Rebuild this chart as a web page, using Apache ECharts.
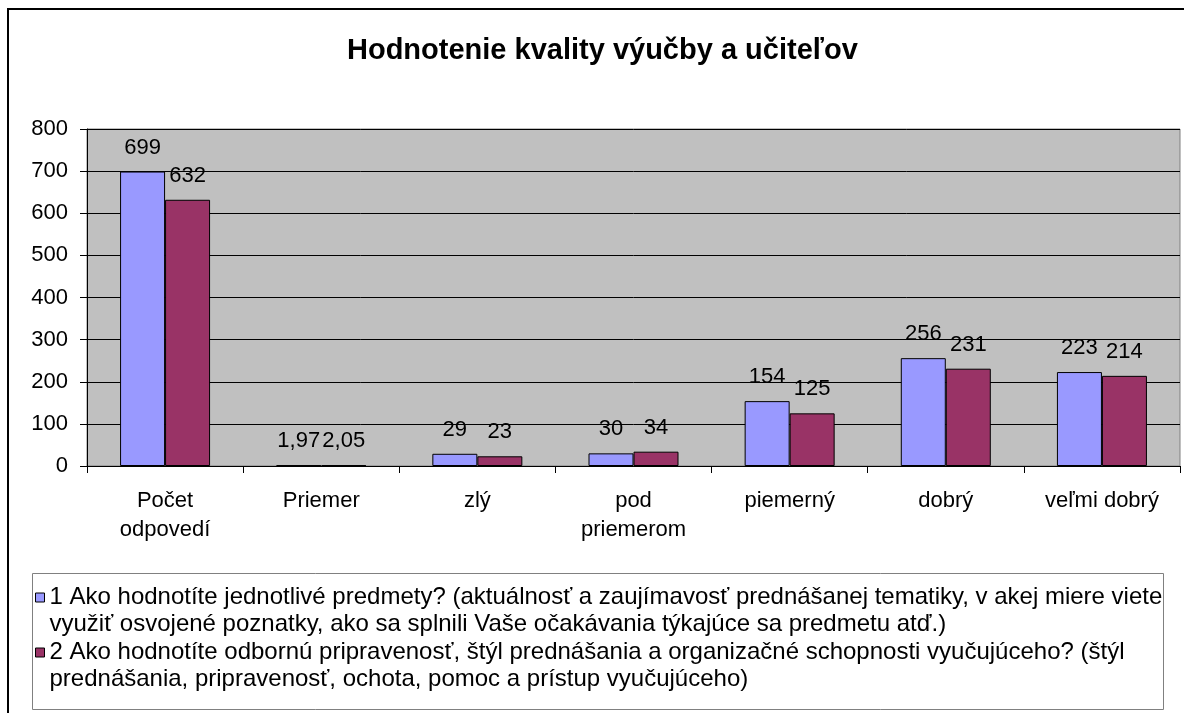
<!DOCTYPE html>
<html>
<head>
<meta charset="utf-8">
<script src="https://cdn.jsdelivr.net/npm/echarts@6/dist/echarts.min.js"></script>
<style>
html, body { margin: 0; padding: 0; background: #fff; }
#main { width: 1184px; height: 713px; }
</style>
</head>
<body>
<div id="main"></div>
<script>
// data
var categories = ['Počet\nodpovedí', 'Priemer', 'zlý', 'pod\npriemerom', 'piemerný', 'dobrý', 'veľmi dobrý'];
var seriesNames = [
    '1 Ako hodnotíte jednotlivé predmety? (aktuálnosť a zaujímavosť prednášanej tematiky, v akej miere viete\nvyužiť osvojené poznatky, ako sa splnili Vaše očakávania týkajúce sa predmetu atď.)',
    '2 Ako hodnotíte odbornú pripravenosť, štýl prednášania a organizačné schopnosti vyučujúceho? (štýl\nprednášania, pripravenosť, ochota, pomoc a prístup vyučujúceho)'
];
var predmety = [699, 1.97, 29, 30, 154, 256, 223];
var vyucujuci = [632, 2.05, 23, 34, 125, 231, 214];
var yMin = 0, yMax = 800, yStep = 100;

var font = "'Liberation Sans', Arial, sans-serif";
var colors = ['#9999FF', '#993366'];

var myChart = echarts.init(document.getElementById('main'));

function labelFmt(p) {
    return String(p.value).replace('.', ',');
}

function makeSeries(i, data) {
    return {
        name: seriesNames[i],
        type: 'bar',
        data: data,
        barWidth: 45,
        barGap: '0%',
        itemStyle: { color: colors[i], borderColor: '#000', borderWidth: 1 },
        label: {
            show: true,
            position: 'top',
            distance: 13,
            color: '#000',
            fontFamily: font,
            fontSize: 22,
            formatter: labelFmt
        }
    };
}

function makeLegend(i, top) {
    return {
        data: [seriesNames[i]],
        left: 35,
        top: top,
        padding: 0,
        itemWidth: 9,
        itemHeight: 9,
        icon: 'rect',
        selectedMode: false,
        itemStyle: { borderColor: '#000', borderWidth: 1 },
        // blank first line so the marker sits next to the first text line
        formatter: function (name) { return ' \n' + name; },
        textStyle: {
            fontFamily: font,
            fontSize: 24,
            color: '#000',
            lineHeight: 27
        }
    };
}

var option = {
    animation: false,
    backgroundColor: '#fff',
    title: {
        text: 'Hodnotenie kvality výučby a učiteľov',
        left: 347,
        top: 36,
        padding: 0,
        textStyle: { fontFamily: font, fontSize: 29, fontWeight: 'bold', color: '#000' }
    },
    graphic: [
        {
            type: 'rect',
            shape: { x: 8, y: 9, width: 1200, height: 720 },
            style: { fill: 'none', stroke: '#000', lineWidth: 2 },
            silent: true
        },
        {
            type: 'rect',
            shape: { x: 32.5, y: 573.5, width: 1131, height: 136 },
            style: { fill: '#fff', stroke: '#808080', lineWidth: 1 },
            silent: true,
            z: -1
        }
    ],
    legend: [makeLegend(0, 557), makeLegend(1, 612)],
    grid: {
        show: true,
        left: 87,
        right: 4,
        top: 129,
        bottom: 247,
        backgroundColor: '#C0C0C0',
        borderColor: '#808080',
        borderWidth: 1
    },
    xAxis: {
        type: 'category',
        data: categories,
        axisLine: { lineStyle: { color: '#000', width: 1 } },
        axisTick: { show: true, length: 7, lineStyle: { color: '#000' } },
        axisLabel: {
            color: '#000',
            fontFamily: font,
            fontSize: 22,
            lineHeight: 29,
            margin: 20,
            interval: 0
        }
    },
    yAxis: {
        type: 'value',
        min: yMin,
        max: yMax,
        interval: yStep,
        axisLine: { show: true, lineStyle: { color: '#000', width: 1 } },
        axisTick: { show: true, length: 7, lineStyle: { color: '#000' } },
        axisLabel: { color: '#000', fontFamily: font, fontSize: 22, margin: 19 },
        splitLine: { show: true, lineStyle: { color: '#000', width: 1 } }
    },
    series: [makeSeries(0, predmety), makeSeries(1, vyucujuci)]
};

myChart.setOption(option);
window.addEventListener('resize', function () { myChart.resize(); });
</script>
</body>
</html>
